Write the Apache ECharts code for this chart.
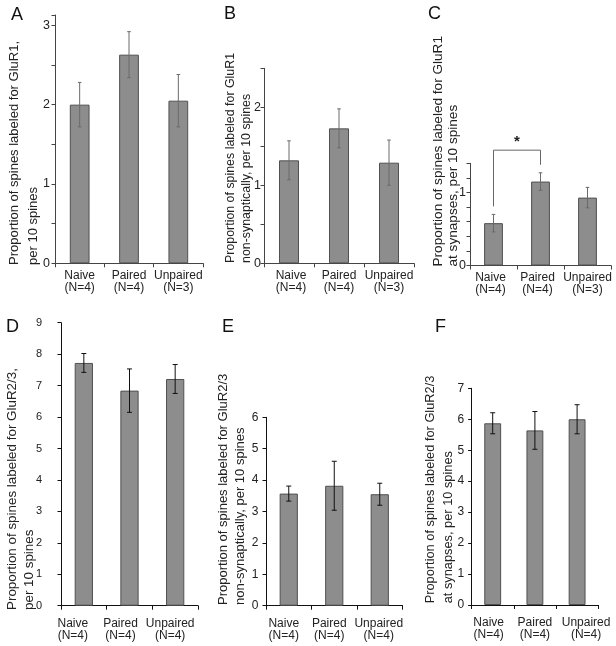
<!DOCTYPE html>
<html>
<head>
<meta charset="utf-8">
<script src="https://cdn.jsdelivr.net/npm/echarts@6/dist/echarts.min.js"></script>
<style>
html,body{margin:0;padding:0;background:#fff;}
#chart{width:616px;height:646px;}
</style>
</head>
<body>
<div id="chart"></div>
<script>
// ---- data ----
const categoriesTop = ['Naive\n(N=4)', 'Paired\n(N=4)', 'Unpaired\n(N=3)'];
const categoriesBottom = ['Naive\n(N=4)', 'Paired\n(N=4)', 'Unpaired\n(N=4)'];

const meanA = [2.00, 2.63, 2.05];
const errA  = [0.28, 0.29, 0.33];
const meanB = [1.32, 1.73, 1.29];
const errB  = [0.25, 0.25, 0.29];
const meanC = [0.58, 1.15, 0.93];
const errC  = [0.12, 0.12, 0.14];
const meanD = [7.72, 6.84, 7.21];
const errD  = [0.30, 0.69, 0.46];
const meanE = [3.57, 3.82, 3.55];
const errE  = [0.24, 0.78, 0.35];
const meanF = [5.87, 5.64, 6.00];
const errF  = [0.34, 0.61, 0.47];

// y axis ranges: [max, tick interval]
const axisA = [3.13, 0.5];
const axisB = [2.5, 0.5];
const axisC = [1.4, 0.2];
const axisD = [9, 1];
const axisE = [6, 1];
const axisF = [7, 1];

// significance bracket in panel C: [fromIdx, toIdx, bracketY, leftEndY, rightEndY]
const sigC = [0, 1, 1.58, 0.81, 1.38];
const sigLabel = '*';

const panelLetters = ['A', 'B', 'C', 'D', 'E', 'F'];
const yTitles = [
  'Proportion of spines labeled for GluR1,\nper 10 spines',
  'Proportion of spines labeled for GluR1\nnon-synaptically, per 10 spines',
  'Proportion of spines labeled for GluR1\nat synapses, per 10 spines',
  'Proportion of spines labeled for GluR2/3,\nper 10 spines',
  'Proportion of spines labeled for GluR2/3\nnon-synaptically, per 10 spines',
  'Proportion of spines labeled for GluR2/3\nat synapses, per 10 spines'
];

// ---- layout / style ----
const FONT = 'Arial, "Liberation Sans", Helvetica, sans-serif';
const panels = [
  {grid:{left:55, top:15, width:148, height:248.3}, cats:categoriesTop, mean:meanA, err:errA, axis:axisA, dark:false,
   yMargin:5, xMargin:6, shift:[0, 0, 0], numSize:12.5,
   letter:{x:11, y:15}, title:{x:5.5, y:265, lh:18.5, size:13}},
  {grid:{left:264, top:68.3, width:150, height:195}, cats:categoriesTop, mean:meanB, err:errB, axis:axisB, dark:false,
   yMargin:3, xMargin:6, shift:[2, 0, 0], numSize:12.5,
   letter:{x:224, y:14}, title:{x:222, y:263, lh:16.5, size:12.4}},
  {grid:{left:470, top:163.3, width:141, height:102.2}, cats:categoriesTop, mean:meanC, err:errC, axis:axisC, dark:false,
   yMargin:4, xMargin:6, shift:[-3, -3, 0], numSize:12.5,
   letter:{x:428, y:14}, title:{x:430.5, y:266.5, lh:15, size:13.6}},
  {grid:{left:61, top:322.7, width:137, height:283}, cats:categoriesBottom, mean:meanD, err:errD, axis:axisD, dark:true,
   yMargin:19, xMargin:12, shift:[-11, -9, -5], numSize:11,
   letter:{x:6, y:327}, title:{x:4.5, y:610, lh:16.5, size:13.4}},
  {grid:{left:266, top:417.3, width:136.5, height:188.4}, cats:categoriesBottom, mean:meanE, err:errE, axis:axisE, dark:true,
   yMargin:7.5, xMargin:12, shift:[-5, -5, -1], numSize:12,
   letter:{x:222, y:327}, title:{x:215, y:605, lh:16.7, size:13}},
  {grid:{left:471.6, top:388.3, width:126.6, height:216.7}, cats:categoriesBottom, mean:meanF, err:errF, axis:axisF, dark:true,
   yMargin:7.5, xMargin:12, shift:[-4, 0, 9], numSize:12,
   letter:{x:435, y:327}, title:{x:422, y:603.3, lh:17.7, size:12.8}}
];

function errRender(halfCap, color) {
  return function (params, api) {
    const idx = api.value(0);
    const top = api.coord([idx, api.value(2)]);
    const bot = api.coord([idx, api.value(1)]);
    const st = {stroke: color, lineWidth: 1};
    return {
      type: 'group',
      children: [
        {type: 'line', shape: {x1: top[0], y1: top[1], x2: bot[0], y2: bot[1]}, style: st},
        {type: 'line', shape: {x1: top[0] - halfCap, y1: top[1], x2: top[0] + halfCap, y2: top[1]}, style: st},
        {type: 'line', shape: {x1: bot[0] - halfCap, y1: bot[1], x2: bot[0] + halfCap, y2: bot[1]}, style: st}
      ]
    };
  };
}

function labelItems(cats, shift) {
  return cats.map(function (c, k) {
    const s = shift[k];
    const pad = s < 0 ? [0, -2 * s, 0, 0] : [0, 0, 0, 2 * s];
    return {value: c, textStyle: {padding: pad}};
  });
}

const grids = [], xAxes = [], yAxes = [], series = [], graphics = [];
panels.forEach(function (p, i) {
  const axisColor = p.dark ? '#111' : '#444';
  grids.push(Object.assign({containLabel: false, outerBoundsMode: 'none'}, p.grid));
  xAxes.push({
    type: 'category', gridIndex: i, data: labelItems(p.cats, p.shift),
    axisLine: {lineStyle: {color: axisColor, width: 1}},
    axisTick: {show: true, length: 4, alignWithLabel: false, lineStyle: {color: axisColor}},
    axisLabel: {interval: 0, fontFamily: FONT, fontSize: 12, lineHeight: 12, color: '#222', margin: p.xMargin},
    splitLine: {show: false}
  });
  yAxes.push({
    type: 'value', gridIndex: i, min: 0, max: p.axis[0], interval: p.axis[1],
    axisLine: {show: true, lineStyle: {color: axisColor, width: 1}},
    axisTick: {show: true, length: 3.5, lineStyle: {color: axisColor}},
    axisLabel: {
      fontFamily: FONT, fontSize: p.numSize, color: '#222', margin: p.yMargin,
      formatter: function (v) { return Math.abs(v - Math.round(v)) < 1e-6 ? String(Math.round(v)) : ''; }
    },
    splitLine: {show: false}
  });
  series.push({
    type: 'bar', xAxisIndex: i, yAxisIndex: i, data: p.mean, barWidth: '40%',
    itemStyle: {color: '#8d8d8d', borderColor: '#505050', borderWidth: 1},
    silent: true, animation: false, z: 2
  });
  series.push({
    type: 'custom', xAxisIndex: i, yAxisIndex: i,
    data: p.mean.map(function (m, k) { return [k, m - p.err[k], m + p.err[k]]; }),
    encode: {x: 0, y: [1, 2]},
    renderItem: errRender(p.dark ? 2.5 : 1.8, p.dark ? '#111' : '#6a6a6a'),
    silent: true, animation: false, z: 3, clip: false
  });
  graphics.push({
    type: 'text', x: p.letter.x, y: p.letter.y,
    style: {text: panelLetters[i], font: '18px ' + FONT, fill: '#111', align: 'left', verticalAlign: 'middle'}
  });
  graphics.push({
    type: 'text', x: p.title.x, y: p.title.y, rotation: Math.PI / 2,
    style: {text: yTitles[i], font: p.title.size + 'px ' + FONT, fill: '#222', align: 'left', verticalAlign: 'top', lineHeight: p.title.lh}
  });
});

// significance bracket on panel C
series.push({
  type: 'custom', xAxisIndex: 2, yAxisIndex: 2, data: [sigC], clip: false, silent: true, animation: false, z: 4,
  renderItem: function (params, api) {
    const a0 = api.coord([api.value(0), api.value(3)]);
    const a1 = api.coord([api.value(0), api.value(2)]);
    const b1 = api.coord([api.value(1), api.value(2)]);
    const b0 = api.coord([api.value(1), api.value(4)]);
    return {
      type: 'group',
      children: [
        {type: 'polyline', shape: {points: [a0, a1, b1, b0]}, style: {stroke: '#666', lineWidth: 1, fill: null}},
        {type: 'text', x: (a1[0] + b1[0]) / 2, y: a1[1] - 1,
         style: {text: sigLabel, font: 'bold 15px ' + FONT, fill: '#222', align: 'center', verticalAlign: 'bottom'}}
      ]
    };
  }
});

const chart = echarts.init(document.getElementById('chart'), null, {renderer: 'canvas', width: 616, height: 646});
chart.setOption({
  backgroundColor: '#ffffff',
  animation: false,
  grid: grids,
  xAxis: xAxes,
  yAxis: yAxes,
  series: series,
  graphic: graphics
});
</script>
</body>
</html>
